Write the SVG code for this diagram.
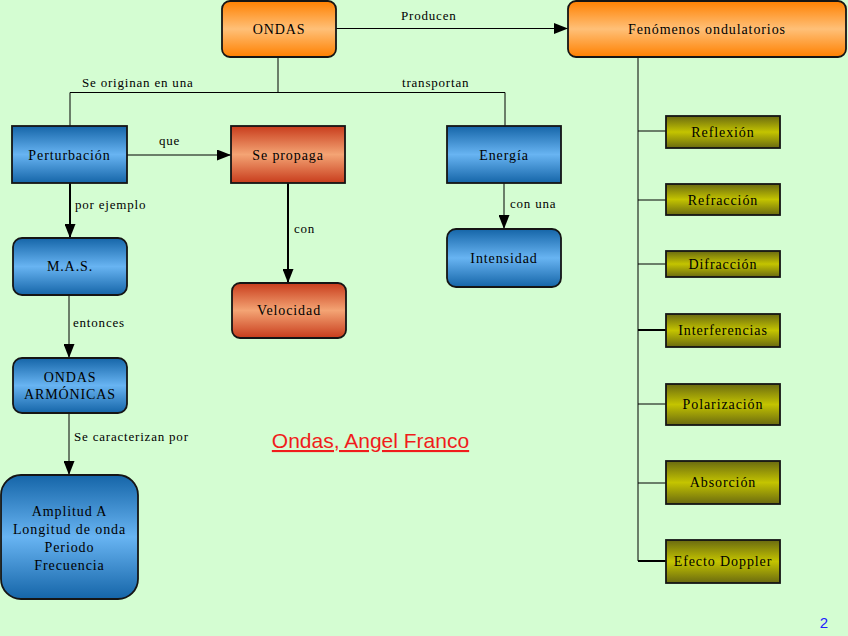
<svg xmlns="http://www.w3.org/2000/svg" width="848" height="636" viewBox="0 0 848 636">
<defs>
<linearGradient id="gBlue" x1="0" y1="0" x2="0" y2="1">
<stop offset="0" stop-color="#1565a8"/><stop offset="0.5" stop-color="#68b4f2"/><stop offset="1" stop-color="#1565a8"/>
</linearGradient>
<linearGradient id="gOrange" x1="0" y1="0" x2="0" y2="1">
<stop offset="0" stop-color="#ff8000"/><stop offset="0.5" stop-color="#ffc078"/><stop offset="1" stop-color="#ff8000"/>
</linearGradient>
<linearGradient id="gRed" x1="0" y1="0" x2="0" y2="1">
<stop offset="0" stop-color="#c83c1c"/><stop offset="0.5" stop-color="#f4a474"/><stop offset="1" stop-color="#c83c1c"/>
</linearGradient>
<linearGradient id="gOlive" x1="0" y1="0" x2="0" y2="1">
<stop offset="0" stop-color="#6a6a10"/><stop offset="0.5" stop-color="#c4c400"/><stop offset="1" stop-color="#6a6a10"/>
</linearGradient>
<marker id="arr" viewBox="0 0 14 11" refX="14" refY="5.5" markerWidth="14" markerHeight="11" markerUnits="userSpaceOnUse" orient="auto">
<path d="M0,0 L14,5.5 L0,11 z" fill="#000"/>
</marker>
</defs>
<style>
.box{stroke:#151515;stroke-width:1.8}
.t{font-family:"Liberation Serif","Times New Roman",serif;font-size:14px;fill:#000;text-anchor:middle;letter-spacing:0.9px}
.lbl{font-family:"Liberation Serif","Times New Roman",serif;font-size:13px;fill:#000;letter-spacing:0.8px}
.ln{stroke:#000;stroke-width:1;fill:none}
.la{stroke:#000;stroke-width:2;fill:none}
</style>
<rect width="848" height="636" fill="#d4fdd2"/>

<g id="connectors">
<path class="ln" d="M336,28.5 H568" marker-end="url(#arr)"/>
<path class="ln" d="M278,57 V92.5 M70,126 V92.5 H505 V126"/>
<path class="ln" d="M127,155 H231" marker-end="url(#arr)"/>
<path class="la" d="M70,183 V238" marker-end="url(#arr)"/>
<path class="ln" d="M69,295 V358" marker-end="url(#arr)"/>
<path class="ln" d="M69,413 V475" marker-end="url(#arr)"/>
<path class="la" d="M288,183 V283" marker-end="url(#arr)"/>
<path class="ln" d="M504,183 V229" marker-end="url(#arr)"/>
<path class="ln" d="M638,57 V561 M638,131 H666 M638,200 H666 M638,264 H666 M638,330 H666 M638,404 H666 M638,483 H666 M638,561 H666"/>
<path class="la" d="M638,330 H666 M638,561 H666"/>
<text class="lbl" x="401" y="20">Producen</text>
<text class="lbl" x="82" y="87">Se originan en una</text>
<text class="lbl" x="402" y="87">transportan</text>
<text class="lbl" x="159" y="145">que</text>
<text class="lbl" x="75" y="209">por ejemplo</text>
<text class="lbl" x="294" y="233">con</text>
<text class="lbl" x="510" y="208">con una</text>
<text class="lbl" x="73" y="327">entonces</text>
<text class="lbl" x="74" y="441">Se caracterizan por</text>
</g>

<g id="ondas"><rect class="box" x="222" y="1" width="114" height="56" rx="8" fill="url(#gOrange)"/><text class="t" x="279" y="34">ONDAS</text></g>
<g id="fenomenos"><rect class="box" x="568" y="1" width="278" height="56" rx="8" fill="url(#gOrange)"/><text class="t" x="707" y="34">Fenómenos ondulatorios</text></g>
<g id="perturbacion"><rect class="box" x="12" y="126" width="115" height="57" fill="url(#gBlue)"/><text class="t" x="69.5" y="160">Perturbación</text></g>
<g id="sepropaga"><rect class="box" x="231" y="126" width="114" height="57" fill="url(#gRed)"/><text class="t" x="288" y="160">Se propaga</text></g>
<g id="energia"><rect class="box" x="447" y="126" width="114" height="57" fill="url(#gBlue)"/><text class="t" x="504" y="160">Energía</text></g>
<g id="mas"><rect class="box" x="13" y="238" width="114" height="57" rx="9" fill="url(#gBlue)"/><text class="t" x="70" y="271">M.A.S.</text></g>
<g id="ondasarmonicas"><rect class="box" x="13" y="358" width="114" height="55" rx="9" fill="url(#gBlue)"/><text class="t" x="70" y="382">ONDAS</text><text class="t" x="70" y="399">ARMÓNICAS</text></g>
<g id="amplitud"><rect class="box" x="1" y="475" width="137" height="124" rx="20" fill="url(#gBlue)"/>
<text class="t" x="69.5" y="516">Amplitud A</text><text class="t" x="69.5" y="534">Longitud de onda</text><text class="t" x="69.5" y="552">Periodo</text><text class="t" x="69.5" y="570">Frecuencia</text></g>
<g id="velocidad"><rect class="box" x="232" y="283" width="114" height="55" rx="8" fill="url(#gRed)"/><text class="t" x="289" y="315">Velocidad</text></g>
<g id="intensidad"><rect class="box" x="447" y="229" width="114" height="58" rx="9" fill="url(#gBlue)"/><text class="t" x="504" y="263">Intensidad</text></g>

<g id="reflexion"><rect class="box" x="666" y="116" width="114" height="32" fill="url(#gOlive)"/><text class="t" x="723" y="137">Reflexión</text></g>
<g id="refraccion"><rect class="box" x="666" y="184" width="114" height="31" fill="url(#gOlive)"/><text class="t" x="723" y="205">Refracción</text></g>
<g id="difraccion"><rect class="box" x="666" y="251" width="114" height="26" fill="url(#gOlive)"/><text class="t" x="723" y="269">Difracción</text></g>
<g id="interferencias"><rect class="box" x="666" y="314" width="114" height="33" fill="url(#gOlive)"/><text class="t" x="723" y="335">Interferencias</text></g>
<g id="polarizacion"><rect class="box" x="666" y="384" width="114" height="41" fill="url(#gOlive)"/><text class="t" x="723" y="409">Polarización</text></g>
<g id="absorcion"><rect class="box" x="666" y="461" width="114" height="43" fill="url(#gOlive)"/><text class="t" x="723" y="487">Absorción</text></g>
<g id="doppler"><rect class="box" x="666" y="540" width="114" height="43" fill="url(#gOlive)"/><text class="t" x="723" y="566">Efecto Doppler</text></g>

<g id="credit"><text x="370.5" y="448" text-anchor="middle" font-family="Liberation Sans, Arial, sans-serif" font-size="21" fill="#f01c1c" text-decoration="underline">Ondas, Angel Franco</text></g>
<text x="824" y="628" text-anchor="middle" font-family="Liberation Sans, Arial, sans-serif" font-size="15" fill="#2020ff">2</text>
</svg>
